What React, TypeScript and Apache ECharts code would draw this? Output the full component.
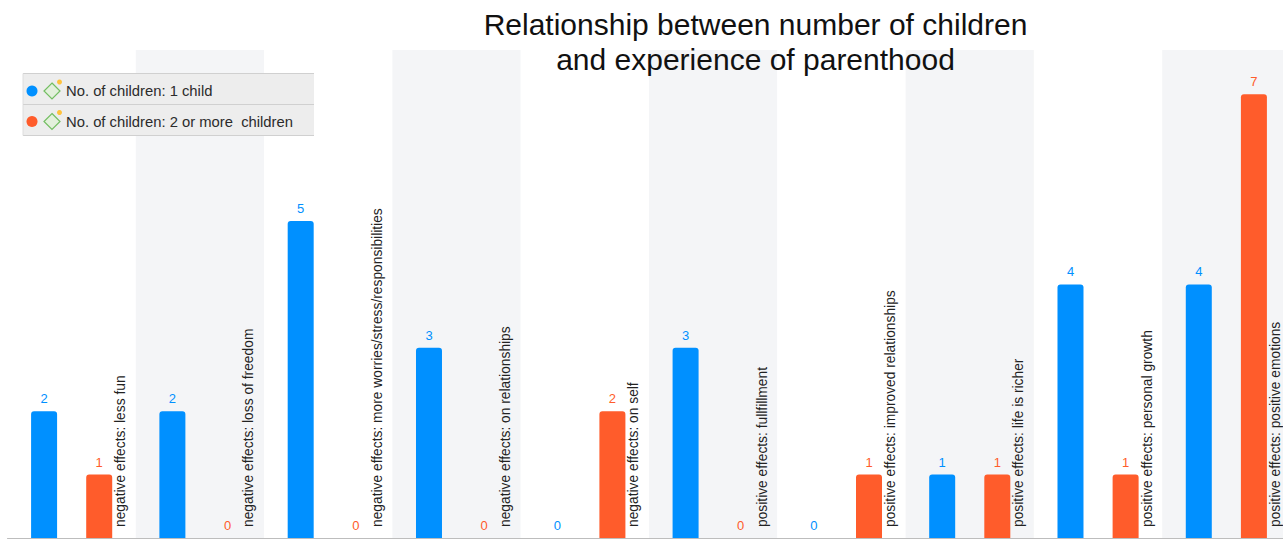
import React, { useEffect, useRef } from "react";
import * as echarts from "echarts";

const categories = [
  "negative effects: less fun",
  "negative effects: loss of freedom",
  "negative effects: more worries/stress/responsibilities",
  "negative effects: on relationships",
  "negative effects: on self",
  "positive effects: fullfillment",
  "positive effects: improved relationships",
  "positive effects: life is richer",
  "positive effects: personal growth",
  "positive effects: positive emotions",
];
const oneChild = [2, 2, 5, 3, 0, 3, 0, 1, 4, 4];
const twoOrMore = [1, 0, 0, 0, 2, 0, 1, 1, 1, 7];
const seriesNames = ["No. of children: 1 child", "No. of children: 2 or more  children"];
const colors = ["#0090FF", "#FF5C2B"];
const titleText = "Relationship between number of children\nand experience of parenthood";
const FONT = '"Liberation Sans", Arial, sans-serif';

function legendRow(i: number, top: number, cy: number) {
  const rule = { stroke: "#D0D0D0", lineWidth: 1 };
  return [
    { type: "rect", z: 100, shape: { x: 23, y: top, width: 291, height: 31 }, style: { fill: "#EDEDED" } },
    { type: "line", z: 101, shape: { x1: 23, y1: top, x2: 314, y2: top }, style: rule },
    { type: "line", z: 101, shape: { x1: 23, y1: top + 31, x2: 314, y2: top + 31 }, style: rule },
    { type: "line", z: 101, shape: { x1: 23, y1: top, x2: 23, y2: top + 31 }, style: { stroke: "#DEDEDE", lineWidth: 1 } },
    { type: "circle", z: 101, shape: { cx: 32, cy, r: 5.5 }, style: { fill: colors[i] } },
    { type: "polygon", z: 101, shape: { points: [[52, cy - 8], [60, cy], [52, cy + 8], [44, cy]] }, style: { fill: "#E3F0DC", stroke: "#73BE62", lineWidth: 1.2 } },
    { type: "circle", z: 102, shape: { cx: 59.5, cy: cy - 9, r: 2.5 }, style: { fill: "#FFC23D" } },
    { type: "text", z: 102, x: 66, y: cy, style: { text: seriesNames[i], font: `14.8px ${FONT}`, fill: "#2B2B2B", textVerticalAlign: "middle" } },
  ];
}

export default function App() {
  const ref = useRef<HTMLDivElement>(null);
  useEffect(() => {
    document.body.style.margin = "0";
    const chart = echarts.init(ref.current!, null, { renderer: "svg" });
    const seriesBase = {
      type: "bar",
      barWidth: 26,
      barGap: "112%",
      label: { show: true, position: "top", distance: 6, fontSize: 13, fontFamily: FONT },
    };
    chart.setOption({
      animation: false,
      title: {
        text: titleText,
        left: 750.5,
        top: 2,
        textAlign: "center",
        textStyle: { fontFamily: FONT, fontSize: 30, fontWeight: "normal", color: "#111", lineHeight: 35 },
      },
      grid: { left: 7.5, top: 50, width: 1283, height: 488, outerBoundsMode: "none" },
      xAxis: {
        type: "category",
        data: categories,
        axisLine: { show: true, lineStyle: { color: "#BDBDBD", width: 1 } },
        axisTick: { show: false },
        splitArea: { show: true, interval: 0, areaStyle: { color: ["#FFFFFF", "#F4F5F7"] } },
        axisLabel: {
          interval: 0,
          inside: true,
          rotate: 90,
          margin: 11,
          align: "left",
          verticalAlign: "top",
          padding: [42, 0, 0, 0],
          fontFamily: FONT,
          fontSize: 13.8,
          color: "#222",
          hideOverlap: false,
        },
      },
      yAxis: { type: "value", min: 0, max: 7.7, show: false, splitLine: { show: false } },
      series: [
        { ...seriesBase, name: seriesNames[0], data: oneChild, itemStyle: { color: colors[0], borderRadius: [3, 3, 0, 0] }, label: { ...seriesBase.label, color: colors[0] } },
        { ...seriesBase, name: seriesNames[1], data: twoOrMore, itemStyle: { color: colors[1], borderRadius: [3, 3, 0, 0] }, label: { ...seriesBase.label, color: colors[1] } },
      ],
      graphic: { elements: [...legendRow(0, 73.5, 91), ...legendRow(1, 104.5, 121.5)] },
    });
    return () => chart.dispose();
  }, []);
  return <div ref={ref} style={{ width: 1283, height: 544 }} />;
}
